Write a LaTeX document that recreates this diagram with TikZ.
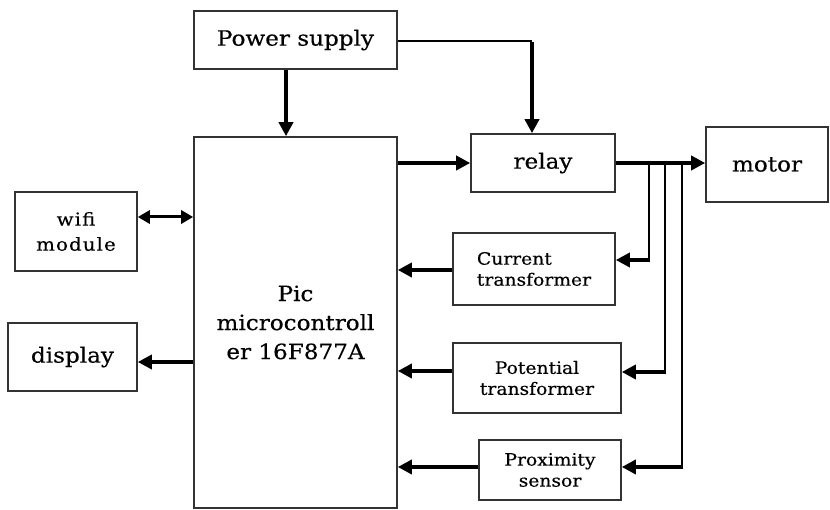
\documentclass[tikz,border=0pt]{standalone}
\usepackage{fontspec}
\setmainfont{DejaVu Serif}[FakeStretch=1.1,FakeBold=0.4]
\usetikzlibrary{arrows.meta}
\tikzset{
  box/.style={draw=black!80, line width=1.6pt, inner sep=0pt, align=center},
  big/.style={font=\fontsize{21}{29}\selectfont},
  small/.style={font=\fontsize{17}{21}\selectfont},
  thk/.style={line width=4pt, -{Triangle[length=14pt,width=14pt]}},
  dbl/.style={line width=3pt, {Triangle[length=12pt,width=13pt]}-{Triangle[length=12pt,width=13pt]}},
  thn/.style={line width=1.5pt},
  vln/.style={line width=2pt},
}
\begin{document}
\begin{tikzpicture}[x=1pt,y=-1pt]
\useasboundingbox (0,0) rectangle (830,510);
% boxes
\node[box,big,minimum width=203pt,minimum height=58pt] (ps) at (295.5,40) {Power supply};
\node[box,big,minimum width=203pt,minimum height=371pt] (pic) at (295.5,322.5) {Pic\\microcontroll\\er 16F877A};
\node[box,big,minimum width=144pt,minimum height=58pt] (relay) at (543,163) {relay};
\node[box,big,minimum width=122pt,minimum height=75pt] (motor) at (767,164.5) {motor};
\node[box,font=\fontsize{18}{25}\addfontfeatures{LetterSpace=6}\selectfont,minimum width=122pt,minimum height=79pt] (wifi) at (76,231.5) {wifi\\module};
\node[box,big,minimum width=129pt,minimum height=68pt] (display) at (72.5,357) {display};
\node[box,small,align=left,minimum width=162pt,minimum height=72pt] (ct) at (534,269) {Current\\transformer};
\node[box,small,minimum width=168pt,minimum height=70pt] (pt) at (537,378) {Potential\\transformer};
\node[box,small,minimum width=142pt,minimum height=60pt] (prox) at (550,470) {Proximity\\sensor};
% helper coordinates
\coordinate (xA) at (286,0);
\coordinate (xB) at (532,0);
\coordinate (yB) at (0,41);
\coordinate (yW) at (0,217);
\coordinate (yD) at (0,362);
\coordinate (yC) at (0,270);
\coordinate (yP) at (0,371);
\coordinate (yX) at (0,467);
\coordinate (j1) at (649,163);
\coordinate (j2) at (665,163);
\coordinate (j3) at (682,163);
\coordinate (c1) at (649,260);
\coordinate (c2) at (665,372);
\coordinate (c3) at (682,467);
% power
\draw[thk] (ps.south -| xA) -- (pic.north -| xA);
\draw[thn] (ps.east |- yB) -- (xB |- yB);
\draw[thk] ([yshift=-0.75pt]xB |- yB) -- (relay.north -| xB);
% pic -> relay -> motor
\draw[thk] (pic.east |- relay.west) -- (relay.west);
\draw[thk] (relay.east) -- (relay.east -| motor.west);
% branches
\draw[vln] (j1) -- ([yshift=2pt]c1);
\draw[vln] (j2) -- ([yshift=2pt]c2);
\draw[vln] (j3) -- ([yshift=2pt]c3);
\draw[thk] ([xshift=1pt]c1) -- (c1 -| ct.east);
\draw[thk] ([xshift=1pt]c2) -- (c2 -| pt.east);
\draw[thk] ([xshift=1pt]c3) -- (c3 -| prox.east);
% sensors -> pic
\draw[thk] (ct.west |- yC) -- (pic.east |- yC);
\draw[thk] (pt.west |- yP) -- (pic.east |- yP);
\draw[thk] (prox.west |- yX) -- (pic.east |- yX);
% left side
\draw[dbl] (wifi.east |- yW) -- (pic.west |- yW);
\draw[thk] (pic.west |- yD) -- (display.east |- yD);
\end{tikzpicture}
\end{document}
